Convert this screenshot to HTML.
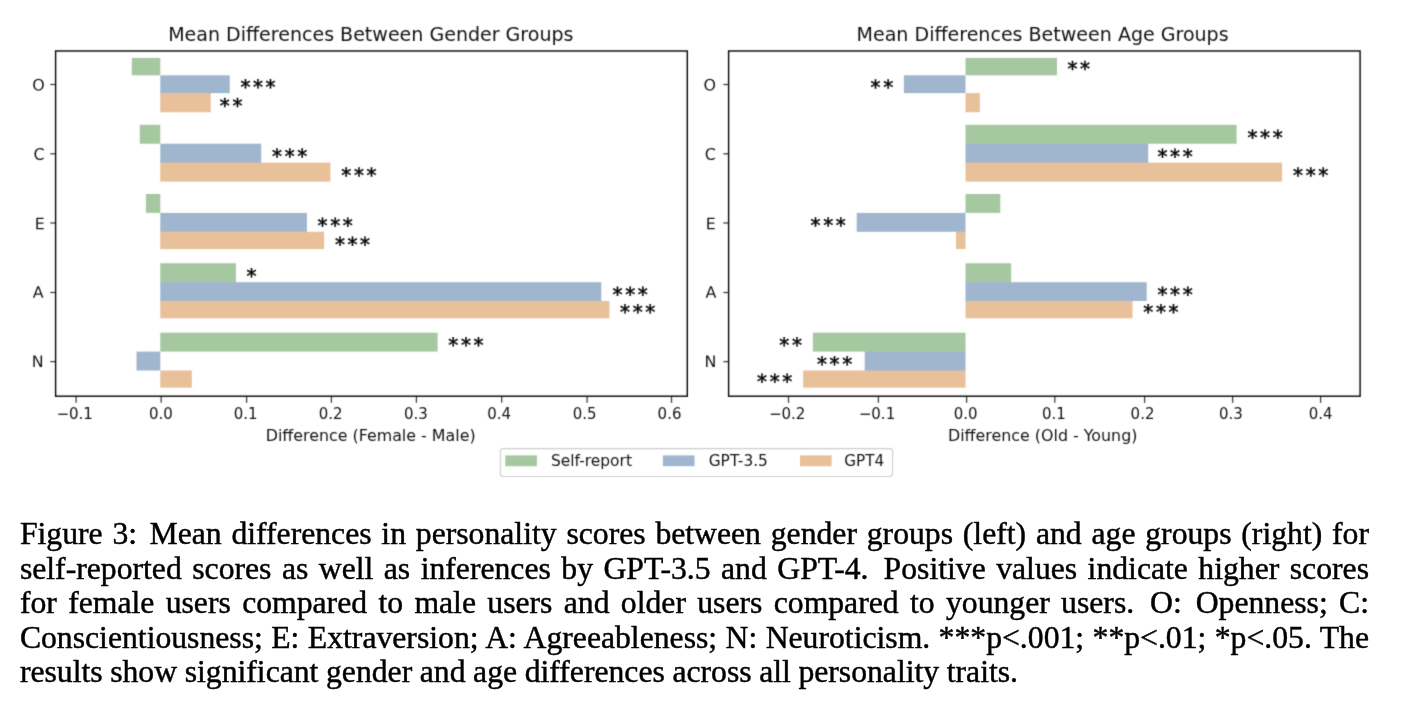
<!DOCTYPE html>
<html lang="en">
<head>
<meta charset="utf-8">
<title>Figure 3</title>
<style>
html,body{margin:0;padding:0;background:#fff;}
body{width:1420px;height:708px;position:relative;overflow:hidden;}
svg text{fill:#000;fill-opacity:0.93;}
svg text.a{fill-opacity:1;stroke:#000;stroke-width:0.5px;}
#cap{position:absolute;left:19.9px;top:515px;width:1349.1px;font-family:"Liberation Serif","DejaVu Serif",serif;font-size:31.7px;line-height:35px;color:#000;-webkit-text-stroke:0.45px #000;}
#cap .ln{position:absolute;left:0;width:100%;white-space:nowrap;text-align:justify;text-align-last:justify;height:35px;}
#cap i{display:inline-block;height:1px;}
#cap i.c{width:2.6px;}
#cap i.p{width:4.6px;}
#cap .ln.last{text-align:left;text-align-last:left;word-spacing:-0.35px;}
</style>
</head>
<body>
<svg width="1420" height="490" viewBox="0 0 1420 490" style="position:absolute;left:0;top:0">
<defs><filter id="soft" x="0" y="0" width="1420" height="490" filterUnits="userSpaceOnUse" color-interpolation-filters="sRGB"><feConvolveMatrix order="3" kernelMatrix="0.0225 0.1050 0.0225 0.1050 0.4900 0.1050 0.0225 0.1050 0.0225" divisor="1" edgeMode="none"/></filter></defs>
<g filter="url(#soft)" font-family="'DejaVu Sans', 'Liberation Sans', sans-serif" fill="#000">
<rect x="131.8" y="57.9" width="28.5" height="17.4" fill="#a5c8a0"/>
<rect x="160.3" y="75.3" width="69.4" height="17.8" fill="#a0b6ce"/>
<rect x="160.3" y="92.6" width="50.4" height="1.2" fill="#a0b6ce"/>
<rect x="160.3" y="93.1" width="50.4" height="19.1" fill="#e8c099"/>
<rect x="139.8" y="124.8" width="20.5" height="18.9" fill="#a5c8a0"/>
<rect x="160.3" y="143.7" width="100.9" height="18.9" fill="#a0b6ce"/>
<rect x="160.3" y="162.1" width="100.9" height="1.2" fill="#a0b6ce"/>
<rect x="160.3" y="162.6" width="170.1" height="19" fill="#e8c099"/>
<rect x="145.9" y="194" width="14.4" height="18.9" fill="#a5c8a0"/>
<rect x="160.3" y="212.9" width="146.6" height="18.9" fill="#a0b6ce"/>
<rect x="160.3" y="231.3" width="146.6" height="1.2" fill="#a0b6ce"/>
<rect x="160.3" y="231.8" width="163.8" height="17.3" fill="#e8c099"/>
<rect x="160.3" y="263.3" width="75.6" height="18.9" fill="#a5c8a0"/>
<rect x="160.3" y="281.7" width="75.6" height="1.2" fill="#a5c8a0"/>
<rect x="160.3" y="282.2" width="441" height="18.8" fill="#a0b6ce"/>
<rect x="160.3" y="300.5" width="441" height="1.2" fill="#a0b6ce"/>
<rect x="160.3" y="301" width="449.1" height="17.3" fill="#e8c099"/>
<rect x="160.3" y="332.7" width="277.3" height="18.9" fill="#a5c8a0"/>
<rect x="136.5" y="351.6" width="23.8" height="18.9" fill="#a0b6ce"/>
<rect x="160.3" y="370.5" width="31.5" height="17.15" fill="#e8c099"/>
<rect x="55.6" y="51" width="631.7" height="345.2" fill="none" stroke="#000" stroke-width="1.4" stroke-opacity="1"/>
<line x1="50.3" y1="84.5" x2="55.6" y2="84.5" stroke="#000" stroke-width="1.3" stroke-opacity="0.75"/>
<text x="44.7" y="90.6" font-size="15.875" text-anchor="end" transform="matrix(1 0.0006 0 1 0 -0.0268)">O</text>
<line x1="50.3" y1="153.8" x2="55.6" y2="153.8" stroke="#000" stroke-width="1.3" stroke-opacity="0.75"/>
<text x="44.7" y="159.8" font-size="15.875" text-anchor="end" transform="matrix(1 0.0006 0 1 0 -0.0268)">C</text>
<line x1="50.3" y1="223" x2="55.6" y2="223" stroke="#000" stroke-width="1.3" stroke-opacity="0.75"/>
<text x="44.7" y="229.2" font-size="15.875" text-anchor="end" transform="matrix(1 0.0006 0 1 0 -0.0268)">E</text>
<line x1="50.3" y1="292.5" x2="55.6" y2="292.5" stroke="#000" stroke-width="1.3" stroke-opacity="0.75"/>
<text x="43.7" y="297.8" font-size="15.875" text-anchor="end" transform="matrix(1 0.0006 0 1 0 -0.0262)">A</text>
<line x1="50.3" y1="361.6" x2="55.6" y2="361.6" stroke="#000" stroke-width="1.3" stroke-opacity="0.75"/>
<text x="43.7" y="367" font-size="15.875" text-anchor="end" transform="matrix(1 0.0006 0 1 0 -0.0262)">N</text>
<line x1="76.1" y1="396.2" x2="76.1" y2="402.8" stroke="#000" stroke-width="1.3" stroke-opacity="0.75"/>
<text x="56.41" y="419" font-size="15.875" textLength="36.5" lengthAdjust="spacingAndGlyphs">−0.1</text>
<line x1="161.2" y1="396.2" x2="161.2" y2="402.8" stroke="#000" stroke-width="1.3" stroke-opacity="0.75"/>
<text x="148.91" y="419" font-size="15.875" textLength="23.8" lengthAdjust="spacingAndGlyphs">0.0</text>
<line x1="246.6" y1="396.2" x2="246.6" y2="402.8" stroke="#000" stroke-width="1.3" stroke-opacity="0.75"/>
<text x="233.81" y="419" font-size="15.875" textLength="23.8" lengthAdjust="spacingAndGlyphs">0.1</text>
<line x1="331.4" y1="396.2" x2="331.4" y2="402.8" stroke="#000" stroke-width="1.3" stroke-opacity="0.75"/>
<text x="318.81" y="419" font-size="15.875" textLength="23.8" lengthAdjust="spacingAndGlyphs">0.2</text>
<line x1="416.4" y1="396.2" x2="416.4" y2="402.8" stroke="#000" stroke-width="1.3" stroke-opacity="0.75"/>
<text x="403.91" y="419" font-size="15.875" textLength="23.8" lengthAdjust="spacingAndGlyphs">0.3</text>
<line x1="501.7" y1="396.2" x2="501.7" y2="402.8" stroke="#000" stroke-width="1.3" stroke-opacity="0.75"/>
<text x="487.31" y="419" font-size="15.875" textLength="23.8" lengthAdjust="spacingAndGlyphs">0.4</text>
<line x1="587.1" y1="396.2" x2="587.1" y2="402.8" stroke="#000" stroke-width="1.3" stroke-opacity="0.75"/>
<text x="572.71" y="419" font-size="15.875" textLength="23.8" lengthAdjust="spacingAndGlyphs">0.5</text>
<line x1="671.5" y1="396.2" x2="671.5" y2="402.8" stroke="#000" stroke-width="1.3" stroke-opacity="0.75"/>
<text x="657.61" y="419" font-size="15.875" textLength="23.8" lengthAdjust="spacingAndGlyphs">0.6</text>
<text x="370.8" y="40.8" font-size="19.05" text-anchor="middle">Mean Differences Between Gender Groups</text>
<text x="370.65" y="440.9" font-size="15.875" text-anchor="middle">Difference (Female - Male)</text>
<rect x="965.5" y="57.9" width="91.5" height="17.4" fill="#a5c8a0"/>
<rect x="903.9" y="75.3" width="61.6" height="17.8" fill="#a0b6ce"/>
<rect x="965.5" y="93.1" width="14.3" height="19.1" fill="#e8c099"/>
<rect x="965.5" y="124.8" width="271.1" height="18.9" fill="#a5c8a0"/>
<rect x="965.5" y="143.2" width="182.7" height="1.2" fill="#a5c8a0"/>
<rect x="965.5" y="143.7" width="182.7" height="18.9" fill="#a0b6ce"/>
<rect x="965.5" y="162.1" width="182.7" height="1.2" fill="#a0b6ce"/>
<rect x="965.5" y="162.6" width="316.6" height="19" fill="#e8c099"/>
<rect x="965.5" y="194" width="34.8" height="18.9" fill="#a5c8a0"/>
<rect x="856.7" y="212.9" width="108.8" height="18.9" fill="#a0b6ce"/>
<rect x="956" y="231.3" width="9.5" height="1.2" fill="#a0b6ce"/>
<rect x="956" y="231.8" width="9.5" height="17.3" fill="#e8c099"/>
<rect x="965.5" y="263.3" width="45.6" height="18.9" fill="#a5c8a0"/>
<rect x="965.5" y="281.7" width="45.6" height="1.2" fill="#a5c8a0"/>
<rect x="965.5" y="282.2" width="181.2" height="18.8" fill="#a0b6ce"/>
<rect x="965.5" y="300.5" width="167" height="1.2" fill="#a0b6ce"/>
<rect x="965.5" y="301" width="167" height="17.3" fill="#e8c099"/>
<rect x="812.9" y="332.7" width="152.6" height="18.9" fill="#a5c8a0"/>
<rect x="864.7" y="351.1" width="100.8" height="1.2" fill="#a5c8a0"/>
<rect x="864.7" y="351.6" width="100.8" height="18.9" fill="#a0b6ce"/>
<rect x="864.7" y="370" width="100.8" height="1.2" fill="#a0b6ce"/>
<rect x="803.2" y="370.5" width="162.3" height="17.15" fill="#e8c099"/>
<rect x="728.6" y="51" width="631.5" height="345.2" fill="none" stroke="#000" stroke-width="1.4" stroke-opacity="1"/>
<line x1="723.3" y1="84.5" x2="728.6" y2="84.5" stroke="#000" stroke-width="1.3" stroke-opacity="0.75"/>
<text x="715.9" y="90.6" font-size="15.875" text-anchor="end" transform="matrix(1 0.0006 0 1 0 -0.4295)">O</text>
<line x1="723.3" y1="153.8" x2="728.6" y2="153.8" stroke="#000" stroke-width="1.3" stroke-opacity="0.75"/>
<text x="715.9" y="159.8" font-size="15.875" text-anchor="end" transform="matrix(1 0.0006 0 1 0 -0.4295)">C</text>
<line x1="723.3" y1="223" x2="728.6" y2="223" stroke="#000" stroke-width="1.3" stroke-opacity="0.75"/>
<text x="715.9" y="229.2" font-size="15.875" text-anchor="end" transform="matrix(1 0.0006 0 1 0 -0.4295)">E</text>
<line x1="723.3" y1="292.5" x2="728.6" y2="292.5" stroke="#000" stroke-width="1.3" stroke-opacity="0.75"/>
<text x="716.4" y="297.8" font-size="15.875" text-anchor="end" transform="matrix(1 0.0006 0 1 0 -0.4298)">A</text>
<line x1="723.3" y1="361.6" x2="728.6" y2="361.6" stroke="#000" stroke-width="1.3" stroke-opacity="0.75"/>
<text x="716.4" y="367" font-size="15.875" text-anchor="end" transform="matrix(1 0.0006 0 1 0 -0.4298)">N</text>
<line x1="788.5" y1="396.2" x2="788.5" y2="402.8" stroke="#000" stroke-width="1.3" stroke-opacity="0.75"/>
<text x="768.91" y="419" font-size="15.875" textLength="36.5" lengthAdjust="spacingAndGlyphs">−0.2</text>
<line x1="878.4" y1="396.2" x2="878.4" y2="402.8" stroke="#000" stroke-width="1.3" stroke-opacity="0.75"/>
<text x="858.71" y="419" font-size="15.875" textLength="36.5" lengthAdjust="spacingAndGlyphs">−0.1</text>
<line x1="966.6" y1="396.2" x2="966.6" y2="402.8" stroke="#000" stroke-width="1.3" stroke-opacity="0.75"/>
<text x="953.81" y="419" font-size="15.875" textLength="23.8" lengthAdjust="spacingAndGlyphs">0.0</text>
<line x1="1054.8" y1="396.2" x2="1054.8" y2="402.8" stroke="#000" stroke-width="1.3" stroke-opacity="0.75"/>
<text x="1042.01" y="419" font-size="15.875" textLength="23.8" lengthAdjust="spacingAndGlyphs">0.1</text>
<line x1="1144.6" y1="396.2" x2="1144.6" y2="402.8" stroke="#000" stroke-width="1.3" stroke-opacity="0.75"/>
<text x="1130.61" y="419" font-size="15.875" textLength="23.8" lengthAdjust="spacingAndGlyphs">0.2</text>
<line x1="1232.6" y1="396.2" x2="1232.6" y2="402.8" stroke="#000" stroke-width="1.3" stroke-opacity="0.75"/>
<text x="1218.91" y="419" font-size="15.875" textLength="23.8" lengthAdjust="spacingAndGlyphs">0.3</text>
<line x1="1320.6" y1="396.2" x2="1320.6" y2="402.8" stroke="#000" stroke-width="1.3" stroke-opacity="0.75"/>
<text x="1308.71" y="419" font-size="15.875" textLength="23.8" lengthAdjust="spacingAndGlyphs">0.4</text>
<text x="1042.6" y="40.8" font-size="19.05" text-anchor="middle">Mean Differences Between Age Groups</text>
<text x="1042.7" y="440.9" font-size="15.875" text-anchor="middle">Difference (Old - Young)</text>
<text x="240.4" y="94.05" font-size="20.0" letter-spacing="2.6" class="a" transform="matrix(1 0.0006 0 1 0 -0.1442)">***</text>
<text x="219.8" y="112.7" font-size="20.0" letter-spacing="2.6" class="a" transform="matrix(1 0.0006 0 1 0 -0.1319)">**</text>
<text x="272.1" y="163.15" font-size="20.0" letter-spacing="2.6" class="a" transform="matrix(1 0.0006 0 1 0 -0.1633)">***</text>
<text x="341.3" y="182.3" font-size="20.0" letter-spacing="2.6" class="a" transform="matrix(1 0.0006 0 1 0 -0.2048)">***</text>
<text x="317.6" y="232.5" font-size="20.0" letter-spacing="2.6" class="a" transform="matrix(1 0.0006 0 1 0 -0.1906)">***</text>
<text x="334.9" y="251.4" font-size="20.0" letter-spacing="2.6" class="a" transform="matrix(1 0.0006 0 1 0 -0.2009)">***</text>
<text x="246.6" y="282.9" font-size="20.0" letter-spacing="2.6" class="a" transform="matrix(1 0.0006 0 1 0 -0.1480)">*</text>
<text x="612.6" y="301.5" font-size="20.0" letter-spacing="2.6" class="a" transform="matrix(1 0.0006 0 1 0 -0.3676)">***</text>
<text x="620.1" y="319.1" font-size="20.0" letter-spacing="2.6" class="a" transform="matrix(1 0.0006 0 1 0 -0.3721)">***</text>
<text x="448.3" y="352" font-size="20.0" letter-spacing="2.6" class="a" transform="matrix(1 0.0006 0 1 0 -0.2690)">***</text>
<text x="1067.5" y="75.8" font-size="20.0" letter-spacing="2.6" class="a" transform="matrix(1 0.0006 0 1 0 -0.6405)">**</text>
<text x="870.6" y="94.2" font-size="20.0" letter-spacing="2.6" class="a" transform="matrix(1 0.0006 0 1 0 -0.5224)">**</text>
<text x="1247.5" y="144.4" font-size="20.0" letter-spacing="2.6" class="a" transform="matrix(1 0.0006 0 1 0 -0.7485)">***</text>
<text x="1157.5" y="163.5" font-size="20.0" letter-spacing="2.6" class="a" transform="matrix(1 0.0006 0 1 0 -0.6945)">***</text>
<text x="1293.1" y="182.35" font-size="20.0" letter-spacing="2.6" class="a" transform="matrix(1 0.0006 0 1 0 -0.7759)">***</text>
<text x="810.6" y="232.3" font-size="20.0" letter-spacing="2.6" class="a" transform="matrix(1 0.0006 0 1 0 -0.4864)">***</text>
<text x="1157.5" y="301.6" font-size="20.0" letter-spacing="2.6" class="a" transform="matrix(1 0.0006 0 1 0 -0.6945)">***</text>
<text x="1143.3" y="319" font-size="20.0" letter-spacing="2.6" class="a" transform="matrix(1 0.0006 0 1 0 -0.6860)">***</text>
<text x="779.3" y="351.95" font-size="20.0" letter-spacing="2.6" class="a" transform="matrix(1 0.0006 0 1 0 -0.4676)">**</text>
<text x="817" y="371.1" font-size="20.0" letter-spacing="2.6" class="a" transform="matrix(1 0.0006 0 1 0 -0.4902)">***</text>
<text x="757.1" y="388.4" font-size="20.0" letter-spacing="2.6" class="a" transform="matrix(1 0.0006 0 1 0 -0.4543)">***</text>
<rect x="500.3" y="448.6" width="392.3" height="27.9" rx="3" ry="3" fill="#fff" stroke="#cdcdcd" stroke-width="1.05"/>
<rect x="505.3" y="455.4" width="31.6" height="10.8" fill="#a5c8a0"/>
<text x="551" y="466.2" font-size="15.875" textLength="81" lengthAdjust="spacingAndGlyphs">Self-report</text>
<rect x="662.9" y="455.4" width="31.6" height="10.8" fill="#a0b6ce"/>
<text x="708.7" y="466.2" font-size="15.875" textLength="59.2" lengthAdjust="spacingAndGlyphs">GPT-3.5</text>
<rect x="800" y="455.4" width="31.6" height="10.8" fill="#e8c099"/>
<text x="844.2" y="466.2" font-size="15.875" textLength="40" lengthAdjust="spacingAndGlyphs">GPT4</text>
</g></svg>
<div id="cap">
<div class="ln" style="top:1px">Figure 3:<i class="c"></i> Mean differences in personality scores between gender groups (left) and age groups (right) for</div>
<div class="ln" style="top:36px">self-reported scores as well as inferences by GPT-3.5 and GPT-4.<i class="p"></i> Positive values indicate higher scores</div>
<div class="ln" style="top:70px">for female users compared to male users and older users compared to younger users.<i class="p"></i> O:<i class="c"></i> Openness; C:</div>
<div class="ln" style="top:105px">Conscientiousness; E: Extraversion; A: Agreeableness; N: Neuroticism. ***p&lt;.001; **p&lt;.01; *p&lt;.05. The</div>
<div class="ln last" style="top:139px">results show significant gender and age differences across all personality traits.</div>
</div>
</body>
</html>
